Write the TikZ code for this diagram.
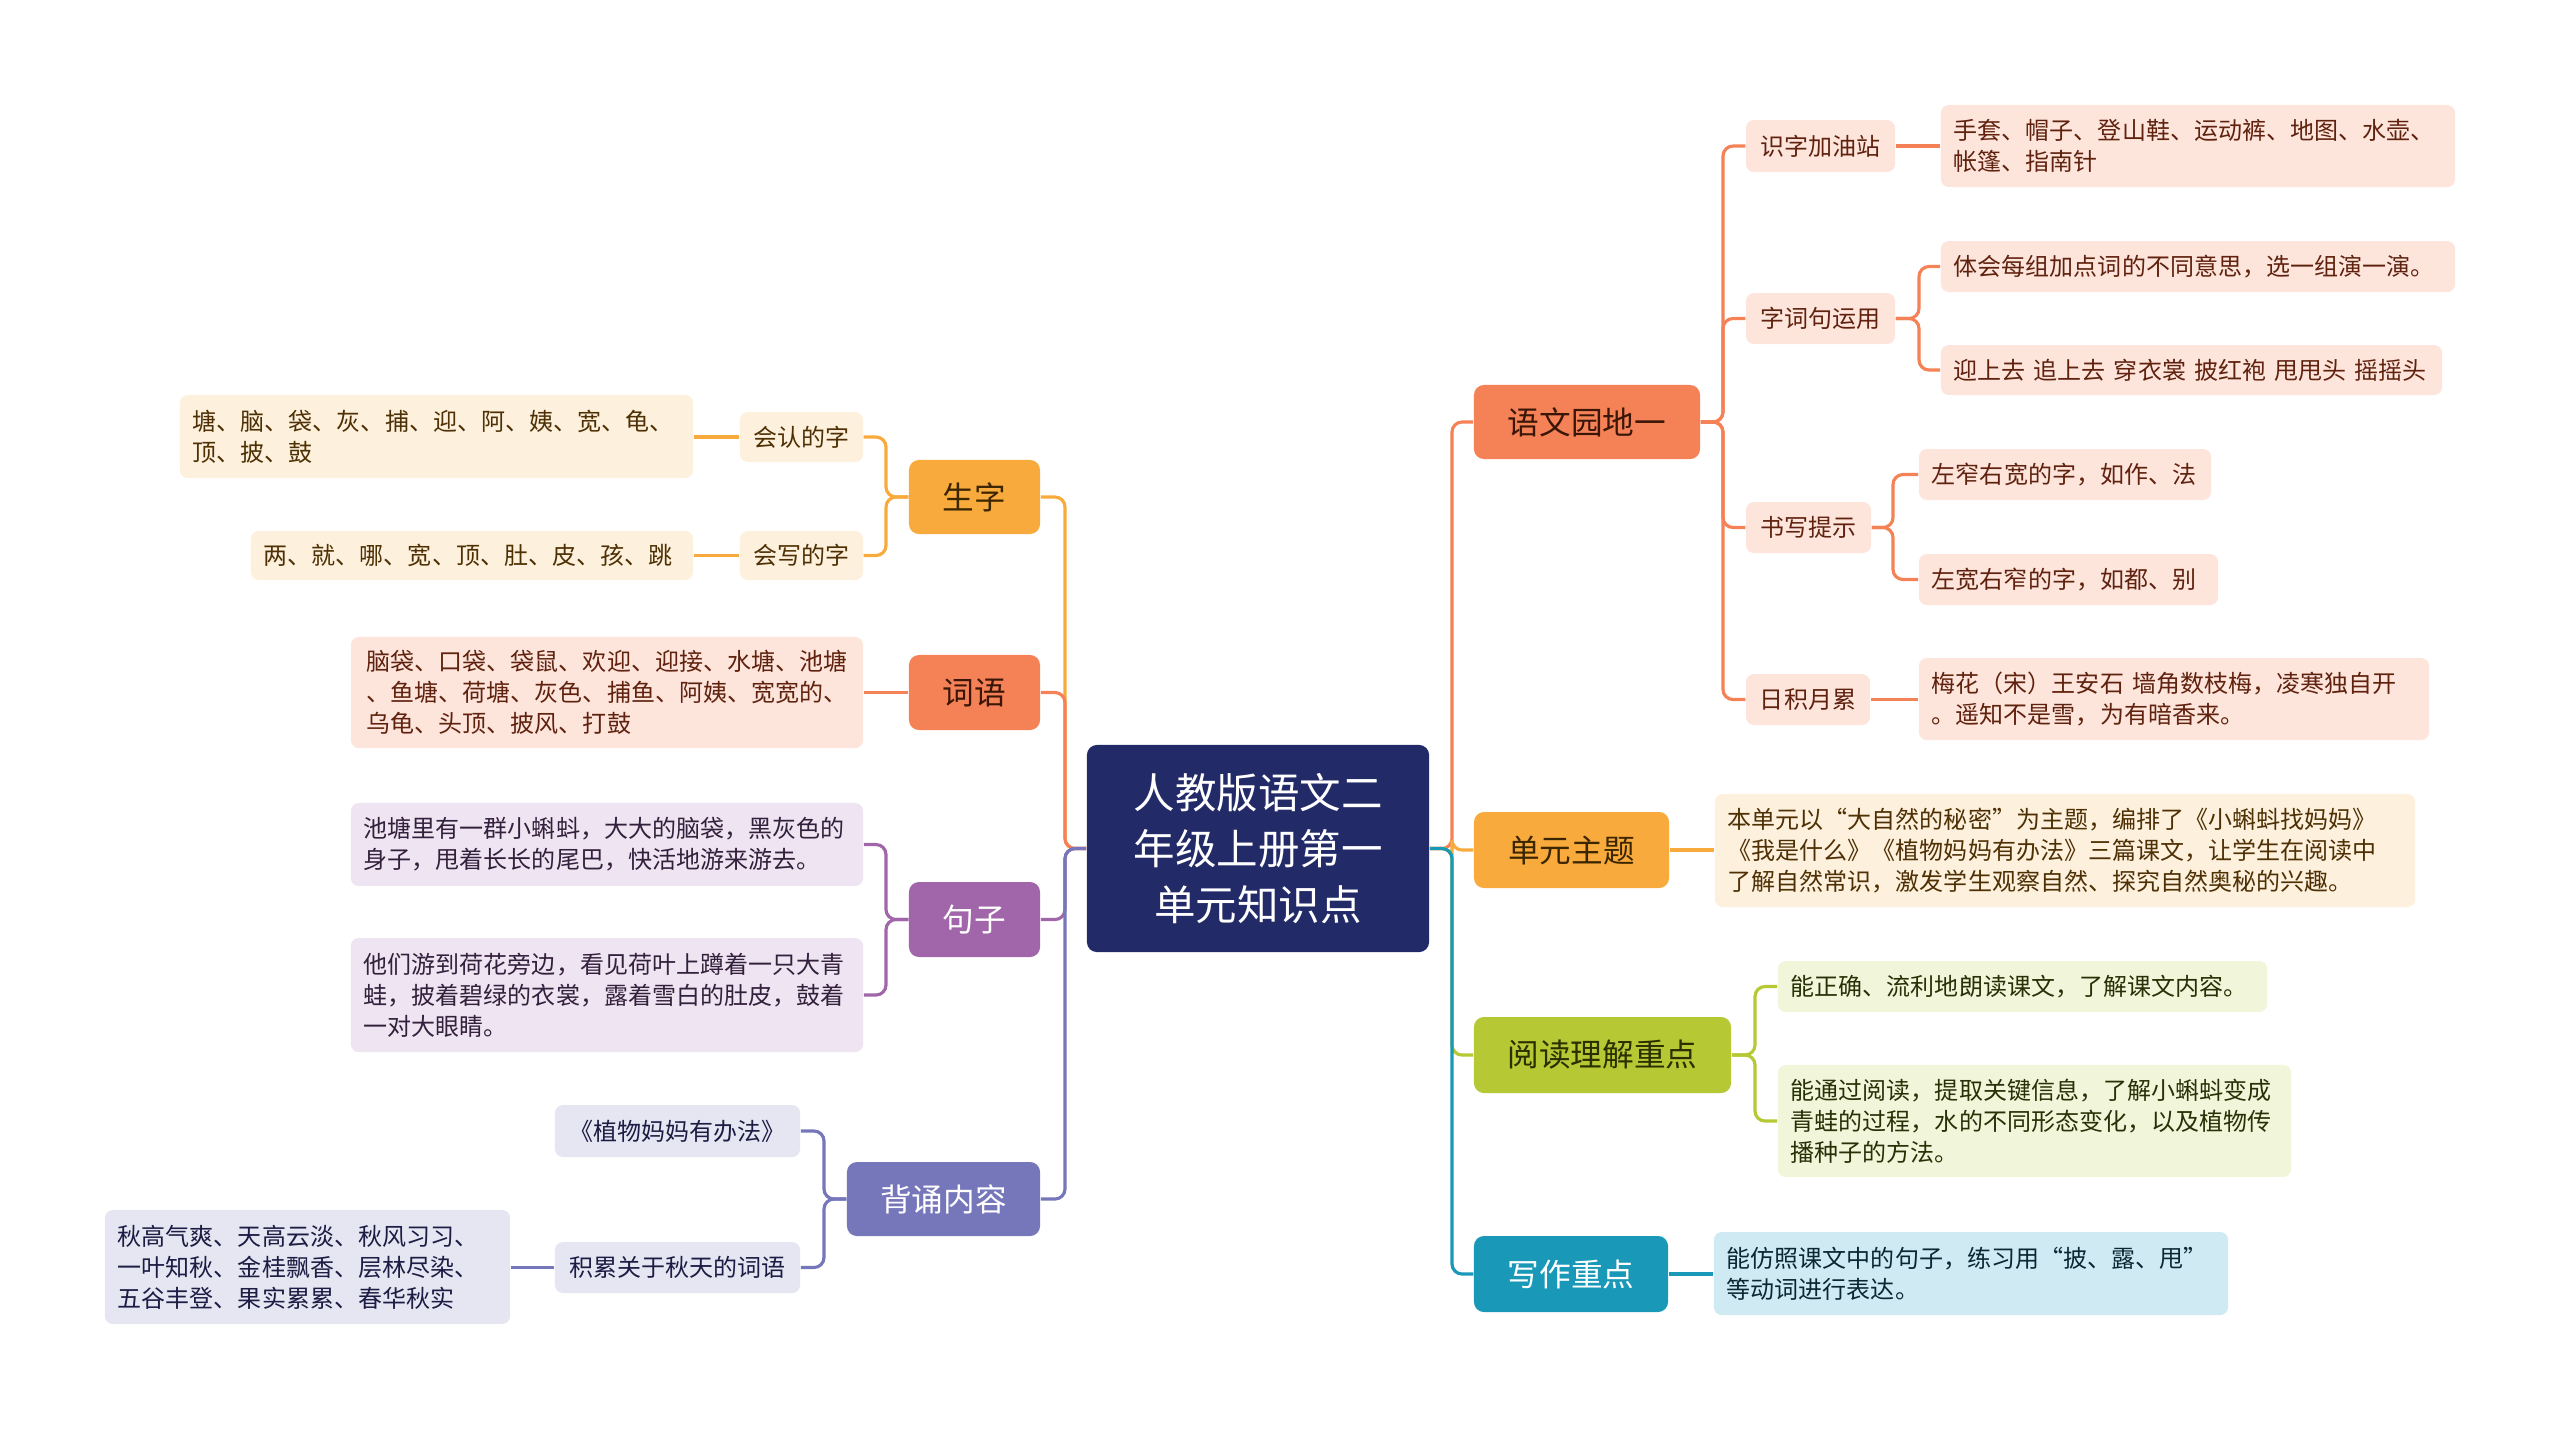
\documentclass[tikz,border=0pt]{standalone}
\usepackage{fontspec}
\setmainfont{Noto Sans CJK SC}
\definecolor{cNavy}{HTML}{222A68}
\definecolor{cOr}{HTML}{F9AA3C}
\definecolor{cCo}{HTML}{F58156}
\definecolor{cPu}{HTML}{A166A9}
\definecolor{cBp}{HTML}{7676BA}
\definecolor{cLi}{HTML}{B6C833}
\definecolor{cTe}{HTML}{1A98B7}
\definecolor{lOr}{HTML}{FDF0DC}
\definecolor{lCo}{HTML}{FDE5DC}
\definecolor{lPu}{HTML}{EFE4F1}
\definecolor{lBp}{HTML}{E6E6F2}
\definecolor{lLi}{HTML}{F1F5DA}
\definecolor{lTe}{HTML}{CFEAF2}
\definecolor{tOr}{HTML}{4E3004}
\definecolor{tCo}{HTML}{60220E}
\definecolor{tPu}{HTML}{33203C}
\definecolor{tBp}{HTML}{1C1C44}
\definecolor{tLi}{HTML}{283006}
\definecolor{tTe}{HTML}{0A2834}
\definecolor{tOrD}{HTML}{3C2600}
\definecolor{tCoD}{HTML}{3A1608}
\definecolor{tLiD}{HTML}{2A3000}
\newcommand\fsub{\fontsize{6.83pt}{8.8pt}\selectfont}
\newcommand\fmain{\fontsize{9pt}{11pt}\selectfont}
\newcommand\ftitle{\fontsize{11.8pt}{15.9pt}\selectfont}
\begin{document}
\begin{tikzpicture}[x=0.01cm,y=-0.01cm,
  conn/.style={line width=0.9pt, rounded corners=0.1cm},
  mainbox/.style={rounded corners=0.1cm, inner sep=0pt, font=\fmain, align=center},
  subbox/.style={rounded corners=0.08cm, inner sep=0pt, font=\fsub, align=center},
  leafbox/.style={rounded corners=0.08cm, inner sep=0pt, font=\fsub, align=left}]
\useasboundingbox (0,0) rectangle (2560,1429);

% root
\node[mainbox, fill=cNavy, text=white, font=\ftitle, minimum width=3.42cm, minimum height=2.07cm] (root) at (1258,848.5) {人教版语文二\\年级上册第一\\单元知识点};

% left main branches
\node[mainbox, fill=cOr, text=tOrD, minimum width=1.31cm, minimum height=0.74cm] (sz) at (974.5,497) {生字};
\node[mainbox, fill=cCo, text=tCoD, minimum width=1.31cm, minimum height=0.75cm] (cy) at (974.5,692.5) {词语};
\node[mainbox, fill=cPu, text=white, minimum width=1.31cm, minimum height=0.75cm] (jz) at (974.5,919.5) {句子};
\node[mainbox, fill=cBp, text=white, minimum width=1.93cm, minimum height=0.74cm] (bs) at (943.5,1199) {背诵内容};

\node[subbox, fill=lOr, text=tOr, minimum width=1.23cm, minimum height=0.50cm] (hr) at (801.5,437) {会认的字};
\node[subbox, fill=lOr, text=tOr, minimum width=1.23cm, minimum height=0.49cm] (hx) at (801.5,555.5) {会写的字};
\node[leafbox, fill=lOr, text=tOr, minimum width=5.13cm, text width=4.87cm, minimum height=0.83cm] (hrL) at (436.5,436.5) {塘、脑、袋、灰、捕、迎、阿、姨、宽、龟、\\顶、披、鼓};
\node[leafbox, fill=lOr, text=tOr, minimum width=4.42cm, text width=4.16cm, minimum height=0.49cm] (hxL) at (472,555.5) {两、就、哪、宽、顶、肚、皮、孩、跳};
\node[leafbox, fill=lCo, text=tCo, minimum width=5.12cm, minimum height=1.11cm] (cyL) at (607,692.5) {脑袋、口袋、袋鼠、欢迎、迎接、水塘、池塘\\、鱼塘、荷塘、灰色、捕鱼、阿姨、宽宽的、\\乌龟、头顶、披风、打鼓};
\node[leafbox, fill=lPu, text=tPu, minimum width=5.12cm, text width=4.86cm, minimum height=0.83cm] (jz1) at (607,844.5) {池塘里有一群小蝌蚪，大大的脑袋，黑灰色的\\身子，甩着长长的尾巴，快活地游来游去。};
\node[leafbox, fill=lPu, text=tPu, minimum width=5.12cm, text width=4.86cm, minimum height=1.14cm] (jz2) at (607,995) {他们游到荷花旁边，看见荷叶上蹲着一只大青\\蛙，披着碧绿的衣裳，露着雪白的肚皮，鼓着\\一对大眼睛。};
\node[subbox, fill=lBp, text=tBp, minimum width=2.45cm, minimum height=0.52cm] (zw) at (677.5,1131) {《植物妈妈有办法》};
\node[subbox, fill=lBp, text=tBp, minimum width=2.45cm, minimum height=0.51cm] (jl) at (677.5,1267.5) {积累关于秋天的词语};
\node[leafbox, fill=lBp, text=tBp, minimum width=4.05cm, text width=3.79cm, minimum height=1.14cm] (jlL) at (307.5,1267) {秋高气爽、天高云淡、秋风习习、\\一叶知秋、金桂飘香、层林尽染、\\五谷丰登、果实累累、春华秋实};

% right main branches
\node[mainbox, fill=cCo, text=tCoD, minimum width=2.26cm, minimum height=0.74cm] (yw) at (1587,422) {语文园地一};
\node[mainbox, fill=cOr, text=tOrD, minimum width=1.95cm, minimum height=0.76cm] (dy) at (1571.5,850) {单元主题};
\node[mainbox, fill=cLi, text=tLiD, minimum width=2.57cm, minimum height=0.76cm] (yd) at (1602.5,1055) {阅读理解重点};
\node[mainbox, fill=cTe, text=white, minimum width=1.94cm, minimum height=0.76cm] (xz) at (1571,1274) {写作重点};

\node[subbox, fill=lCo, text=tCo, minimum width=1.49cm, minimum height=0.52cm] (sj) at (1820.5,146) {识字加油站};
\node[leafbox, fill=lCo, text=tCo, minimum width=5.14cm, text width=4.88cm, minimum height=0.82cm] (sjL) at (2198,146) {手套、帽子、登山鞋、运动裤、地图、水壶、\\帐篷、指南针};
\node[subbox, fill=lCo, text=tCo, minimum width=1.49cm, minimum height=0.51cm] (zc) at (1820.5,318.5) {字词句运用};
\node[leafbox, fill=lCo, text=tCo, minimum width=5.14cm, text width=4.88cm, minimum height=0.51cm] (zc1) at (2198,266.5) {体会每组加点词的不同意思，选一组演一演。};
\node[leafbox, fill=lCo, text=tCo, minimum width=5.01cm, text width=4.75cm, minimum height=0.50cm] (zc2) at (2191.5,370) {迎上去 追上去 穿衣裳 披红袍 甩甩头 摇摇头};
\node[subbox, fill=lCo, text=tCo, minimum width=1.25cm, minimum height=0.51cm] (sx) at (1808.5,527.5) {书写提示};
\node[leafbox, fill=lCo, text=tCo, minimum width=2.92cm, text width=2.66cm, minimum height=0.51cm] (sx1) at (2065,474.5) {左窄右宽的字，如作、法};
\node[leafbox, fill=lCo, text=tCo, minimum width=2.99cm, text width=2.73cm, minimum height=0.51cm] (sx2) at (2068.5,579.5) {左宽右窄的字，如都、别};
\node[subbox, fill=lCo, text=tCo, minimum width=1.24cm, minimum height=0.51cm] (rj) at (1808,699.5) {日积月累};
\node[leafbox, fill=lCo, text=tCo, minimum width=5.10cm, text width=4.84cm, minimum height=0.82cm] (rjL) at (2174,699) {梅花（宋）王安石 墙角数枝梅，凌寒独自开\\。遥知不是雪，为有暗香来。};
\node[leafbox, fill=lOr, text=tOr, minimum width=7.00cm, text width=6.74cm, minimum height=1.13cm] (dyL) at (2065,850.5) {本单元以“大自然的秘密”为主题，编排了《小蝌蚪找妈妈》\\《我是什么》《植物妈妈有办法》三篇课文，让学生在阅读中\\了解自然常识，激发学生观察自然、探究自然奥秘的兴趣。};
\node[leafbox, fill=lLi, text=tLi, minimum width=4.89cm, text width=4.63cm, minimum height=0.51cm] (yd1) at (2022.5,986.5) {能正确、流利地朗读课文，了解课文内容。};
\node[leafbox, fill=lLi, text=tLi, minimum width=5.13cm, text width=4.87cm, minimum height=1.12cm] (yd2) at (2034.5,1121) {能通过阅读，提取关键信息，了解小蝌蚪变成\\青蛙的过程，水的不同形态变化，以及植物传\\播种子的方法。};
\node[leafbox, fill=lTe, text=tTe, minimum width=5.14cm, text width=4.88cm, minimum height=0.83cm] (xzL) at (1971,1273.5) {能仿照课文中的句子，练习用“披、露、甩”\\等动词进行表达。};

% bracket x positions
\coordinate (bxL) at (1065,0);
\coordinate (bxR) at (1452,0);
\coordinate (bSz) at (886,0);
\coordinate (bJz) at (886,0);
\coordinate (bBs) at (824,0);
\coordinate (bYw) at (1723,0);
\coordinate (bZc) at (1919,0);
\coordinate (bSx) at (1893,0);
\coordinate (bYd) at (1755,0);

% root connectors
\foreach \n/\c in {sz/cOr, cy/cCo, jz/cPu, bs/cBp}
  \draw[conn, \c] (root.west) -- (root.west -| bxL) |- (\n.east);
\foreach \n/\c in {yw/cCo, dy/cOr, yd/cLi, xz/cTe}
  \draw[conn, \c] (root.east) -- (root.east -| bxR) |- (\n.west);

% left sub connectors
\foreach \n in {hr, hx}
  \draw[conn, cOr] (sz.west) -- (sz.west -| bSz) |- (\n.east);
\draw[conn, cOr] (hr.west) -- (hrL.east |- hr.west);
\draw[conn, cOr] (hx.west) -- (hxL.east |- hx.west);
\draw[conn, cCo] (cy.west) -- (cyL.east |- cy.west);
\foreach \n in {jz1, jz2}
  \draw[conn, cPu] (jz.west) -- (jz.west -| bJz) |- (\n.east);
\foreach \n in {zw, jl}
  \draw[conn, cBp] (bs.west) -- (bs.west -| bBs) |- (\n.east);
\draw[conn, cBp] (jl.west) -- (jlL.east |- jl.west);

% right sub connectors
\foreach \n in {sj, zc, sx, rj}
  \draw[conn, cCo] (yw.east) -- (yw.east -| bYw) |- (\n.west);
\draw[conn, cCo] (sj.east) -- (sjL.west |- sj.east);
\foreach \n in {zc1, zc2}
  \draw[conn, cCo] (zc.east) -- (zc.east -| bZc) |- (\n.west);
\foreach \n in {sx1, sx2}
  \draw[conn, cCo] (sx.east) -- (sx.east -| bSx) |- (\n.west);
\draw[conn, cCo] (rj.east) -- (rjL.west |- rj.east);
\draw[conn, cOr] (dy.east) -- (dyL.west |- dy.east);
\foreach \n in {yd1, yd2}
  \draw[conn, cLi] (yd.east) -- (yd.east -| bYd) |- (\n.west);
\draw[conn, cTe] (xz.east) -- (xzL.west |- xz.east);
\end{tikzpicture}
\end{document}
